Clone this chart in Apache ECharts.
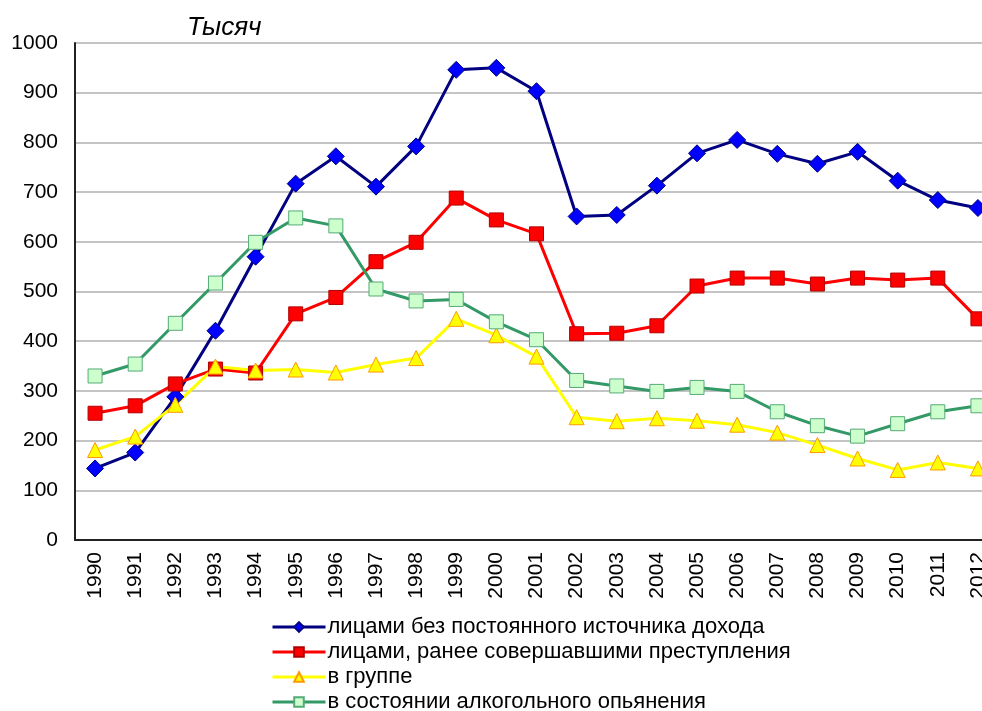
<!DOCTYPE html>
<html>
<head>
<meta charset="utf-8">
<script src="https://cdn.jsdelivr.net/npm/echarts@6/dist/echarts.min.js"></script>
<style>
  html, body { margin: 0; padding: 0; background: #fff; overflow: hidden; }
  /* шире окна: правый край графика обрезан, как на оригинале */
  #main { width: 1000px; height: 711px; }
</style>
</head>
<body>
<div id="main"></div>
<script>
// годы
const years = ["1990", "1991", "1992", "1993", "1994", "1995", "1996", "1997", "1998", "1999", "2000",
  "2001", "2002", "2003", "2004", "2005", "2006", "2007", "2008", "2009", "2010", "2011", "2012"];

// тысяч
const noIncome = [144, 176, 288, 421, 570, 717, 772, 711, 792, 946, 950, 903, 651, 654, 713, 778, 805, 777, 757, 781, 723, 684, 668];
const repeatOffenders = [255, 270, 314, 344, 336, 455, 488, 560, 599, 688, 644, 616, 415, 416, 431, 511, 527, 527, 515, 527, 523, 527, 445];
const inGroup = [181, 208, 272, 349, 341, 343, 337, 353, 366, 445, 412, 369, 247, 239, 245, 240, 232, 216, 191, 164, 141, 156, 144];
const drunk = [330, 354, 436, 517, 599, 648, 632, 505, 481, 484, 439, 403, 321, 310, 299, 307, 299, 258, 230, 209, 234, 258, 270];

const names = [
  "лицами без постоянного источника дохода",
  "лицами, ранее совершавшими преступления",
  "в группе",
  "в состоянии алкогольного опьянения"
];

const myChart = echarts.init(document.getElementById("main"));

function lineSeries(name, data, lineColor, symbol, fill, border, size) {
  return {
    name: name,
    type: "line",
    data: data,
    symbol: symbol,
    symbolSize: size,
    showAllSymbol: true,
    lineStyle: { color: lineColor, width: 3 },
    itemStyle: { color: fill, borderColor: border, borderWidth: 1 },
    animation: false
  };
}

const option = {
  backgroundColor: "#fff",
  textStyle: { fontFamily: "Liberation Sans, Arial, sans-serif" },
  graphic: [{
    type: "text",
    left: 187,
    top: 15,
    style: { text: "Тысяч", font: "italic 26px Liberation Sans, Arial, sans-serif", fill: "#000" }
  }],
  grid: { left: 75, top: 43, width: 923, bottom: 171, containLabel: false },
  xAxis: {
    type: "category",
    data: years,
    boundaryGap: true,
    axisLine: { lineStyle: { color: "#222", width: 2 } },
    axisTick: { show: false },
    axisLabel: { rotate: 90, color: "#000", fontSize: 21, margin: 12 }
  },
  yAxis: {
    type: "value",
    min: 0,
    max: 1000,
    interval: 100,
    axisLine: { show: true, lineStyle: { color: "#222", width: 2 } },
    axisTick: { show: false },
    axisLabel: { color: "#000", fontSize: 21, margin: 17, formatter: (v) => String(v) },
    splitLine: { lineStyle: { color: "#c4c4c4", width: 2 } }
  },
  legend: {
    orient: "vertical",
    left: 266,
    top: 611,
    height: 110,
    itemWidth: 53,
    itemHeight: 12,
    itemGap: 3,
    lineStyle: { width: 3 },
    textStyle: { color: "#000", fontSize: 22, padding: [0, 0, 0, -3] },
    data: names
  },
  series: [
    lineSeries(names[0], noIncome, "#000080", "diamond", "#0000ff", "#000080", 17),
    lineSeries(names[1], repeatOffenders, "#ff0000", "rect", "#ff0000", "#b00000", 14),
    lineSeries(names[2], inGroup, "#ffff00", "triangle", "#ffff00", "#ff9900", 15),
    lineSeries(names[3], drunk, "#339966", "rect", "#ccffcc", "#55aa77", 14)
  ]
};

option && myChart.setOption(option);
</script>
</body>
</html>
